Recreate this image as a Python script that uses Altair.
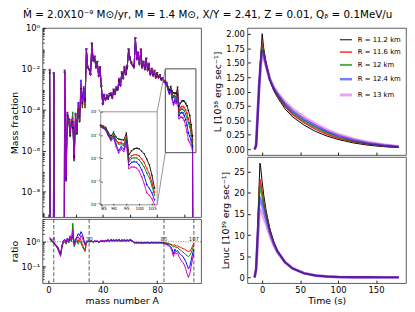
import altair as alt
import pandas as pd

# ---------------- data ----------------
SERIES = ["R = 11.2 km", "R = 11.6 km", "R = 12 km", "R = 12.4 km", "R = 13 km"]
COLORS = ["#000000", "#ff0000", "#008000", "#0000ff", "#bf00bf"]

OFF = -30.0  # far below the plotted range
MASS_A = list(range(1, 108))
# log10 mass fraction of the R = 11.2 km model, A = 1..107
BLACK_LOG_MF = (
    [-2.23, OFF, OFF, -2.23, OFF, OFF, OFF, OFF, OFF, OFF]
    + [OFF, -2.2, -7.4, -4.3, -4.5, -5.3, -4.6, -4.9, -6.3, -4.3]
    + [-5.2, -4.0, -4.6, -3.0, -3.7, -3.0, -3.5, -1.05, -1.95, -2.05]
    + [-2.3, -0.8, -1.6, -1.45, -1.95, -1.7, -2.35, -1.95, -2.9, -3.75]
    + [-3.3, -3.55, -3.35, -3.5, -3.25, -3.3, -3.45, -3.1, -3.25, -3.0]
    + [-3.05, -2.6, -2.85, -2.25, -2.5, -2.0, -2.3, -1.95, -1.1, -1.55]
    + [-1.75, -1.85, -1.9, -0.5, -1.5, -1.2, -1.75, -1.05, -1.9, -1.65]
    + [-2.0, -1.5, -2.05, -1.75, -2.25, -2.0, -2.3, -2.1, -2.4, -2.2]
    + [-2.4, -2.3, -2.5, -2.45, -2.58, -2.62, -2.68, -2.9, -3.05, -2.88]
    + [-3.1, -3.18, -3.2, -3.22, -2.92, -3.85, -3.68, -3.6, -3.57, -3.6]
    + [-3.7, -3.82, -4.05, -4.3, -4.75, -5.3, OFF]
)

# log10 of the ratio to the R = 11.2 km model, A = 1..30 / 31..85 / 86..107
RATIO_LOW = {
    "R = 11.6 km": [0.12, 0.05, 0.0, -0.02, -0.1, -0.15, -0.2, -0.35, -0.5, -0.2,
                    0.0, 0.05, -0.05, 0.1, 0.0, 0.15, 0.05, 0.2, -0.1, 0.05,
                    0.1, 0.0, 0.15, 0.05, -0.1, -0.25, -0.4, -0.05, 0.0, 0.02],
    "R = 12 km": [0.1, 0.05, -0.02, -0.05, -0.15, -0.2, -0.3, -0.45, -0.55, -0.25,
                  -0.05, 0.0, -0.1, 0.05, -0.05, 0.1, 0.0, 0.75, -0.2, -0.05,
                  0.05, -0.1, 0.05, -0.05, -0.2, -0.3, -0.3, -0.05, 0.0, 0.0],
    "R = 12.4 km": [0.15, 0.1, 0.0, 0.0, -0.1, -0.15, -0.25, -0.4, -0.5, -0.15,
                    0.05, 0.1, 0.0, 0.15, 0.05, 0.2, 0.1, 0.3, -0.05, 0.1,
                    0.2, 0.33, 0.25, 0.41, 0.3, 0.1, -0.1, 0.0, 0.02, 0.02],
    "R = 13 km": [0.18, 0.12, 0.02, 0.0, -0.12, -0.2, -0.3, -0.45, -0.6, -0.2,
                  0.02, 0.1, -0.05, 0.12, 0.05, 0.25, 0.1, 0.48, -0.15, 0.05,
                  0.15, 0.2, 0.1, 0.25, 0.15, 0.0, -0.15, 0.0, 0.02, 0.02],
}
RATIO_MID = {
    "R = 11.6 km": [0.0, 0.02, -0.02, 0.03, 0.0, 0.02, -0.02, 0.0, 0.03, 0.02,
                    0.0, 0.03, 0.02, 0.05, 0.0, 0.06, 0.03, 0.05, 0.02, 0.04,
                    0.03, 0.06, 0.02, 0.05, 0.03, 0.04, 0.02, 0.05, 0.03, 0.06,
                    0.04, 0.02, -0.03, -0.02, -0.03, -0.02, -0.03, -0.02, -0.04, -0.03,
                    -0.02, -0.03, -0.02, -0.04, -0.03, -0.02, -0.03, -0.02, -0.03, -0.02,
                    -0.03, -0.02, -0.03, -0.02, -0.03],
    "R = 12 km": [0.0, 0.01, -0.02, 0.02, 0.0, 0.01, -0.03, 0.0, 0.02, 0.01,
                  0.0, 0.02, 0.03, 0.04, 0.0, 0.05, 0.02, 0.04, 0.03, 0.05,
                  0.02, 0.05, 0.03, 0.04, 0.02, 0.05, 0.03, 0.04, 0.02, 0.05,
                  0.03, 0.01, -0.04, -0.03, -0.04, -0.03, -0.04, -0.03, -0.05, -0.04,
                  -0.03, -0.04, -0.03, -0.05, -0.04, -0.03, -0.04, -0.03, -0.04, -0.03,
                  -0.04, -0.03, -0.04, -0.03, -0.04],
    "R = 12.4 km": [0.02, 0.03, -0.01, 0.04, 0.01, 0.03, -0.02, 0.02, 0.05, 0.03,
                    0.02, 0.05, 0.04, 0.08, 0.02, 0.09, 0.05, 0.07, 0.04, 0.08,
                    0.05, 0.09, 0.04, 0.07, 0.05, 0.08, 0.04, 0.07, 0.05, 0.09,
                    0.06, 0.03, -0.05, -0.04, -0.05, -0.04, -0.05, -0.04, -0.06, -0.05,
                    -0.04, -0.05, -0.04, -0.06, -0.05, -0.04, -0.05, -0.04, -0.05, -0.04,
                    -0.05, -0.04, -0.05, -0.05, -0.06],
    "R = 13 km": [0.03, 0.04, -0.01, 0.05, 0.02, 0.04, -0.02, 0.03, 0.06, 0.04,
                  0.03, 0.06, 0.05, 0.1, 0.03, 0.11, 0.06, 0.09, 0.05, 0.1,
                  0.06, 0.11, 0.05, 0.09, 0.06, 0.1, 0.05, 0.09, 0.06, 0.11,
                  0.07, 0.04, -0.06, -0.05, -0.06, -0.05, -0.06, -0.05, -0.07, -0.06,
                  -0.05, -0.06, -0.05, -0.07, -0.06, -0.05, -0.06, -0.05, -0.06, -0.05,
                  -0.06, -0.05, -0.06, -0.06, -0.07],
}
RATIO_HIGH = {
    "R = 11.6 km": [-0.04, -0.05, -0.06, -0.08, -0.1, -0.12, -0.15, -0.12, -0.18, -0.15, -0.2,
                    -0.22, -0.25, -0.28, -0.3, -0.33, -0.37, -0.4, -0.38, -0.3, -0.18, -0.05],
    "R = 12 km": [-0.05, -0.06, -0.08, -0.1, -0.12, -0.15, -0.22, -0.18, -0.25, -0.22, -0.3,
                  -0.33, -0.38, -0.42, -0.47, -0.52, -0.57, -0.6, -0.55, -0.45, -0.3, -0.15],
    "R = 12.4 km": [-0.08, -0.1, -0.12, -0.15, -0.2, -0.3, -0.5, -0.3, -0.4, -0.35, -0.45,
                    -0.5, -0.55, -0.6, -0.7, -0.8, -0.95, -1.1, -1.0, -0.75, -0.5, -0.3],
    "R = 13 km": [-0.1, -0.12, -0.15, -0.2, -0.25, -0.4, -0.6, -0.4, -0.5, -0.45, -0.6,
                  -0.7, -0.78, -0.85, -0.95, -1.1, -1.3, -1.45, -1.3, -1.0, -0.7, -0.45],
}
DASH_A = [4, 30, 85, 107]
DASH_LABELS = ["4", "30", "85", "107"]

T_LUM = [-10, -8, -6, -4, -2, 0, 2, 5, 10, 15, 20, 30, 40, 55, 70, 85, 100, 120, 140, 160, 180]
LUM = {
    "R = 11.2 km": [0.0, 0.05, 0.55, 1.1, 1.6, 2.0, 1.75, 1.5, 1.2, 1.02, 0.9, 0.7, 0.56, 0.42, 0.31, 0.23, 0.17, 0.11, 0.07, 0.045, 0.03],
    "R = 11.6 km": [0.0, 0.06, 0.57, 1.1, 1.55, 1.85, 1.7, 1.48, 1.2, 1.04, 0.93, 0.74, 0.6, 0.46, 0.35, 0.26, 0.19, 0.13, 0.085, 0.055, 0.035],
    "R = 12 km": [0.0, 0.06, 0.58, 1.1, 1.52, 1.8, 1.67, 1.47, 1.21, 1.05, 0.94, 0.76, 0.63, 0.49, 0.38, 0.29, 0.21, 0.14, 0.095, 0.06, 0.04],
    "R = 12.4 km": [0.0, 0.07, 0.59, 1.1, 1.48, 1.72, 1.63, 1.46, 1.21, 1.06, 0.96, 0.79, 0.66, 0.52, 0.41, 0.31, 0.235, 0.16, 0.105, 0.07, 0.045],
    "R = 13 km": [0.0, 0.08, 0.6, 1.1, 1.45, 1.68, 1.6, 1.45, 1.22, 1.08, 0.98, 0.82, 0.7, 0.56, 0.44, 0.34, 0.26, 0.18, 0.12, 0.08, 0.05],
}
T_NUC = [-10, -8, -6, -4, -3, -2, 0, 2, 5, 10, 15, 20, 30, 40, 55, 70, 85, 100, 120, 140, 160, 180]
NUC = {
    "R = 11.2 km": [0.0, 2.0, 10.0, 22.0, 27.0, 26.0, 22.5, 19.5, 16.0, 11.5, 8.5, 6.3, 3.6, 2.1, 0.95, 0.42, 0.18, 0.08, 0.03, 0.01, 0.0, 0.0],
    "R = 11.6 km": [0.0, 2.0, 10.0, 20.0, 23.2, 22.6, 20.2, 18.0, 15.3, 11.3, 8.4, 6.3, 3.6, 2.1, 0.95, 0.42, 0.18, 0.08, 0.03, 0.01, 0.0, 0.0],
    "R = 12 km": [0.0, 2.0, 10.0, 19.0, 21.6, 21.2, 19.2, 17.2, 14.9, 11.1, 8.3, 6.2, 3.6, 2.1, 0.95, 0.42, 0.18, 0.08, 0.03, 0.01, 0.0, 0.0],
    "R = 12.4 km": [0.0, 2.0, 9.5, 17.0, 18.7, 18.4, 17.2, 15.8, 13.9, 10.6, 8.0, 6.1, 3.6, 2.12, 1.0, 0.45, 0.2, 0.09, 0.035, 0.012, 0.0, 0.0],
    "R = 13 km": [0.0, 2.0, 9.0, 14.8, 16.0, 15.9, 15.1, 14.1, 12.7, 10.0, 7.7, 6.0, 3.6, 2.15, 1.0, 0.46, 0.2, 0.09, 0.035, 0.012, 0.0, 0.0],
}

TITLE = "Ṁ = 2.0X10⁻⁹ M⊙/yr, M = 1.4 M⊙, X/Y = 2.41, Z = 0.01, Qᵦ = 0.1MeV/u"

# minor tick positions on the log axes
MINOR_MAIN = [m * 10.0 ** k for k in range(-10, 0) for m in range(2, 10)]
MINOR_RATIO = [m * 10.0 ** k for k in range(-2, 1) for m in range(2, 10)]

# ---------------- tables ----------------
rows = []
for s in SERIES:
    if s == SERIES[0]:
        rlog = [0.0] * len(MASS_A)
    else:
        rlog = RATIO_LOW[s] + RATIO_MID[s] + RATIO_HIGH[s]
    assert len(rlog) == len(MASS_A) == len(BLACK_LOG_MF)
    for a, b, r in zip(MASS_A, BLACK_LOG_MF, rlog):
        rows.append({"A": a, "series": s, "MF": 10 ** (b + r), "ratio": 10 ** r})
mass_df = pd.DataFrame(rows)
ratio_df = mass_df[mass_df.series != SERIES[0]]
inset_df = mass_df[(mass_df.A >= 85) & (mass_df.A <= 106)]

lum_df = pd.DataFrame([{"t": t, "series": s, "v": v} for s in SERIES for t, v in zip(T_LUM, LUM[s])])
nuc_df = pd.DataFrame([{"t": t, "series": s, "v": v} for s in SERIES for t, v in zip(T_NUC, NUC[s])])

# ---------------- layout ----------------
FONT = "DejaVu Sans"
W_L, H_MAIN, H_RATIO = 161, 192, 65
W_R, H_LUM, H_NUC = 161, 129, 128
TK = 3  # inward tick length
TKM = 1.6  # minor tick length
XMIN, XMAX = -4.3, 112.3
YLOG_MIN = -9.25
TMIN, TMAX = -19.5, 189.5

# inset placement, expressed in the main panel's data coordinates
INSET_A0, INSET_A1 = 38.5, 80.0
INSET_LG_TOP, INSET_LG_BOT = -4.1, -8.65
ZOOM_A0, ZOOM_A1 = 86.0, 108.5
ZOOM_LG_TOP, ZOOM_LG_BOT = -2.0, -6.1


def mx(a):
    return (a - XMIN) / (XMAX - XMIN) * W_L


def my(lg):
    return (0 - lg) / (0 - YLOG_MIN) * H_MAIN


SUP = "['⁰','¹','²','³','⁴','⁵','⁶','⁷','⁸','⁹']"
LOG_LABEL = ("'10' + (round(log(datum.value)/LN10) < 0 ? '⁻' : '') + " + SUP +
             "[abs(round(log(datum.value)/LN10))]")

color = alt.Color("series:N", scale=alt.Scale(domain=SERIES, range=COLORS), legend=None)


def axis_in(**kw):
    base = dict(offset=-TK, tickSize=TK, domain=False, labelPadding=3, minExtent=0,
                tickColor="#222", labelFontSize=8.5, titleFontSize=9.5)
    base.update(kw)
    return alt.Axis(**base)


def minor_axis(values, orient):
    return alt.Axis(orient=orient, values=values, offset=-TKM, tickSize=TKM, domain=False,
                    labels=False, title=None, minExtent=0, maxExtent=0, tickColor="#222")


xs_main = alt.Scale(domain=[XMIN, XMAX], nice=False, zero=False)
ys_main = alt.Scale(type="log", domain=[10 ** YLOG_MIN, 1], nice=False)

X_main = alt.X("A:Q", scale=xs_main,
               axis=axis_in(orient="bottom", values=[0, 20, 40, 60, 80, 100], labels=False, title=None))
Y_main = alt.Y("MF:Q", scale=ys_main,
               axis=axis_in(orient="left", values=[1e-8, 1e-6, 1e-4, 1e-2, 1], labelExpr=LOG_LABEL,
                            title="Mass fraction", titlePadding=2))

main_lines = alt.Chart(mass_df).mark_line(clip=True, strokeWidth=1, opacity=0.85).encode(
    x=X_main, y=Y_main, color=color)
main_pts = alt.Chart(mass_df).mark_point(shape="triangle-down", filled=True, size=6,
                                         clip=True, opacity=0.9).encode(
    x=alt.X("A:Q", scale=xs_main, axis=None), y=alt.Y("MF:Q", scale=ys_main, axis=None), color=color)
main_minor = alt.Chart(pd.DataFrame({"A": [50.0], "MF": [1e-3]})).mark_point(opacity=0).encode(
    x=alt.X("A:Q", scale=xs_main, axis=None),
    y=alt.Y("MF:Q", scale=ys_main, axis=minor_axis(MINOR_MAIN, "left")))

zoom_box = alt.Chart(pd.DataFrame([{"a0": ZOOM_A0, "a1": ZOOM_A1,
                                    "v0": 10 ** ZOOM_LG_TOP, "v1": 10 ** ZOOM_LG_BOT}])).mark_rect(
    fillOpacity=0, stroke="#333", strokeWidth=0.9).encode(
    x=alt.X("a0:Q", scale=xs_main, axis=None), x2="a1:Q",
    y=alt.Y("v0:Q", scale=ys_main, axis=None), y2="v1:Q")
connectors = alt.Chart(pd.DataFrame([
    {"a0": ZOOM_A0, "a1": INSET_A1, "v0": 10 ** ZOOM_LG_TOP, "v1": 10 ** INSET_LG_TOP},
    {"a0": ZOOM_A0, "a1": INSET_A1, "v0": 10 ** ZOOM_LG_BOT, "v1": 10 ** INSET_LG_BOT},
])).mark_rule(color="#777", strokeWidth=0.8).encode(
    x=alt.X("a0:Q", scale=xs_main, axis=None), x2="a1:Q",
    y=alt.Y("v0:Q", scale=ys_main, axis=None), y2="v1:Q")

# inset
ins_px_l, ins_px_r = mx(INSET_A0), mx(INSET_A1)
ins_py_t, ins_py_b = my(INSET_LG_TOP), my(INSET_LG_BOT)
xs_in = alt.Scale(domain=[85, 107], range=[ins_px_l, ins_px_r], nice=False, zero=False)
ys_in = alt.Scale(type="log", domain=[1e-6, 1e-2], range=[ins_py_b, ins_py_t], nice=False, clamp=True)
ax_in_x = alt.Axis(orient="bottom", offset=-(H_MAIN - ins_py_b) - 1.5, tickSize=1.5, domain=False,
                   values=[85, 90, 95, 100, 105], labelFontSize=4.5, labelPadding=1, title=None,
                   zindex=1, minExtent=0, tickColor="#333")
ax_in_y = alt.Axis(orient="left", offset=-ins_px_l - 1.5, tickSize=1.5, domain=False,
                   values=[1e-6, 1e-5, 1e-4, 1e-3, 1e-2], labelExpr=LOG_LABEL, labelFontSize=4.5,
                   labelPadding=1, title=None, zindex=1, minExtent=0, tickColor="#333")
inset_bg = alt.Chart(pd.DataFrame([{"a0": 85, "a1": 107, "v0": 1e-2, "v1": 1e-6}])).mark_rect(
    fill="white", stroke="#888", strokeWidth=0.9).encode(
    x=alt.X("a0:Q", scale=xs_in, axis=ax_in_x), x2="a1:Q",
    y=alt.Y("v0:Q", scale=ys_in, axis=ax_in_y), y2="v1:Q")
inset_lines = alt.Chart(inset_df).mark_line(strokeWidth=0.9).encode(
    x=alt.X("A:Q", scale=xs_in, axis=None), y=alt.Y("MF:Q", scale=ys_in, axis=None), color=color)
inset_pts = alt.Chart(inset_df).mark_point(shape="triangle-down", filled=True, size=5).encode(
    x=alt.X("A:Q", scale=xs_in, axis=None), y=alt.Y("MF:Q", scale=ys_in, axis=None), color=color)

top_left = alt.layer(main_lines, main_pts, main_minor, zoom_box, connectors,
                     inset_bg, inset_lines, inset_pts).resolve_scale(
    x="independent", y="independent").properties(width=W_L, height=H_MAIN)

# ratio panel
ys_ratio = alt.Scale(type="log", domain=[10 ** -1.68, 10 ** 0.92], nice=False)
ratio_lines = alt.Chart(ratio_df).mark_line(strokeWidth=1, clip=True).encode(
    x=alt.X("A:Q", scale=xs_main, axis=axis_in(values=[0, 20, 40, 60, 80, 100], title="mass number A",
                                                 titlePadding=1)),
    y=alt.Y("ratio:Q", scale=ys_ratio, axis=axis_in(orient="left", values=[0.1, 1], labelExpr=LOG_LABEL,
                                                     title="ratio", titlePadding=2)),
    color=color)
ratio_minor = alt.Chart(pd.DataFrame({"A": [50.0], "ratio": [1.0]})).mark_point(opacity=0).encode(
    x=alt.X("A:Q", scale=xs_main),
    y=alt.Y("ratio:Q", scale=ys_ratio, axis=minor_axis(MINOR_RATIO, "left")))
dash_df = pd.DataFrame({"A": DASH_A, "lab": DASH_LABELS, "one": [1.0] * len(DASH_A)})
dash_rules = alt.Chart(dash_df).mark_rule(strokeDash=[4, 2], color="#333", strokeWidth=0.8).encode(
    x=alt.X("A:Q", scale=xs_main))
one_rule = alt.Chart(pd.DataFrame({"one": [1.0]})).mark_rule(strokeDash=[1, 1.5], color="#555",
                                                              strokeWidth=0.8).encode(
    y=alt.Y("one:Q", scale=ys_ratio, axis=None))
dash_text = alt.Chart(dash_df).mark_text(fontSize=5.5, baseline="bottom", color="#333", font=FONT).encode(
    x=alt.X("A:Q", scale=xs_main), y=alt.Y("one:Q", scale=ys_ratio, axis=None), text="lab:N")
ratio_chart = alt.layer(ratio_lines, ratio_minor, one_rule, dash_rules, dash_text).resolve_axis(
    y="independent").properties(width=W_L, height=H_RATIO)

left = alt.vconcat(top_left, ratio_chart, spacing=0)

# right panels
xs_t = alt.Scale(domain=[TMIN, TMAX], nice=False, zero=False)
legend = alt.Legend(orient="top-right", title=None, symbolType="stroke", labelFontSize=7,
                    symbolSize=150, rowPadding=2.5, offset=5, labelFont=FONT)
c_leg = alt.Color("series:N", scale=alt.Scale(domain=SERIES, range=COLORS), legend=legend)
sw_leg = alt.StrokeWidth("series:N", scale=alt.Scale(domain=SERIES, range=[1, 3, 1.2, 3, 1.2]), legend=legend)
op_leg = alt.Opacity("series:N", scale=alt.Scale(domain=SERIES, range=[1, 0.35, 0.8, 0.45, 0.8]), legend=legend)
sw_nl = alt.StrokeWidth("series:N", scale=alt.Scale(domain=SERIES, range=[1, 3, 1.2, 3, 1.2]), legend=None)
op_nl = alt.Opacity("series:N", scale=alt.Scale(domain=SERIES, range=[1, 0.35, 0.8, 0.45, 0.8]), legend=None)

lum_chart = alt.Chart(lum_df).mark_line().encode(
    x=alt.X("t:Q", scale=xs_t, axis=axis_in(values=[0, 50, 100, 150], labels=False, title=None)),
    y=alt.Y("v:Q", scale=alt.Scale(domain=[-0.1, 2.1], nice=False, zero=False),
            axis=axis_in(values=[0, 0.25, 0.5, 0.75, 1.0, 1.25, 1.5, 1.75, 2.0], format=".2f",
                         title="L [10³⁸ erg sec⁻¹]", titlePadding=3)),
    color=c_leg, strokeWidth=sw_leg, opacity=op_leg,
).properties(width=W_R, height=H_LUM)

nuc_chart = alt.Chart(nuc_df).mark_line().encode(
    x=alt.X("t:Q", scale=xs_t, axis=axis_in(values=[0, 50, 100, 150], title="Time (s)", titlePadding=1)),
    y=alt.Y("v:Q", scale=alt.Scale(domain=[-1.36, 28.46], nice=False, zero=False),
            axis=axis_in(values=[0, 5, 10, 15, 20, 25], title="Lnuc [10³⁹ erg sec⁻¹]", titlePadding=3)),
    color=color, strokeWidth=sw_nl, opacity=op_nl,
).properties(width=W_R, height=H_NUC)

right = alt.vconcat(lum_chart, nuc_chart, spacing=0).resolve_scale(
    color="independent", strokeWidth="independent", opacity="independent").resolve_legend(
    color="independent", strokeWidth="independent", opacity="independent")

chart = alt.hconcat(left, right, spacing=10).resolve_scale(
    color="independent").resolve_legend(color="independent").properties(
    title=alt.TitleParams(TITLE, fontSize=10.5, anchor="middle", offset=3, font=FONT,
                          fontWeight="normal", color="black"),
    padding={"left": 0, "top": 0, "right": 0, "bottom": 0},
).configure_view(stroke="#333", strokeWidth=0.8).configure_axis(
    labelFont=FONT, titleFont=FONT, titleFontWeight="normal", labelColor="black",
    titleColor="black", grid=False)

chart.save("out.html", embed_options={"renderer": "svg", "actions": False})
